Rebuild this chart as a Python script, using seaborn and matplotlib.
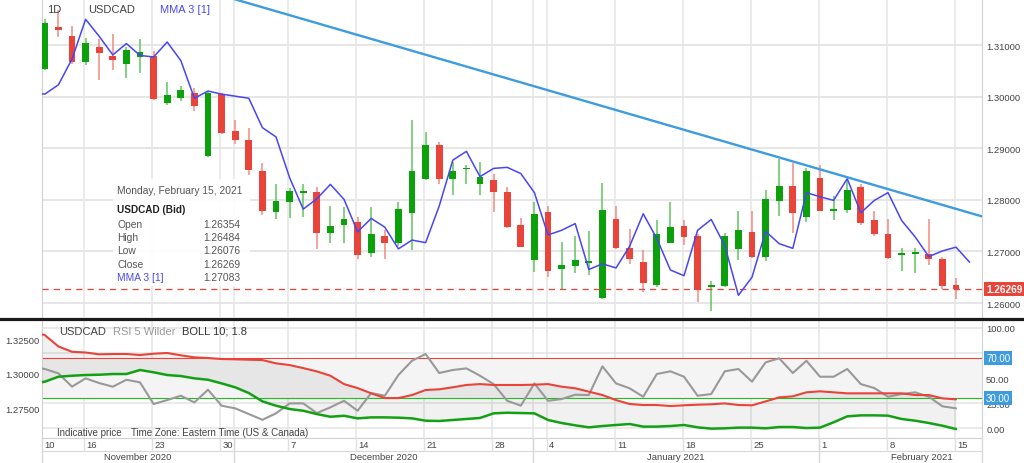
import numpy as np
import pandas as pd
import matplotlib
matplotlib.use("Agg")
import matplotlib.pyplot as plt
import matplotlib.transforms as mtransforms
from matplotlib.patches import Rectangle
from matplotlib.lines import Line2D
import seaborn as sns

sns.set_theme(style="white")
plt.rcParams['font.family'] = ['Liberation Sans', 'DejaVu Sans']

# ------------------------------------------------------------------ data
dates = [d for d in pd.bdate_range("2020-11-10", "2021-02-15")
         if d != pd.Timestamp("2020-12-31")]          # 69 trading days

# candles for dates[1:] (Nov 11 .. Feb 15)
candle_open = [
    1.3054, 1.3135, 1.3117, 1.3067, 1.3096, 1.3078, 1.3064, 1.3077, 1.3078, 1.2988,
    1.2997, 1.3007, 1.2885, 1.3005, 1.2934, 1.2916, 1.2855, 1.2776, 1.2796, 1.2813,
    1.2815, 1.2736, 1.2752, 1.2758, 1.2697, 1.2730, 1.2716, 1.2775, 1.2840, 1.2906,
    1.2841, 1.2859, 1.2830, 1.2838, 1.2816, 1.2751, 1.2684, 1.2777, 1.2665, 1.2672,
    1.2678, 1.2610, 1.2762, 1.2706, 1.2680, 1.2635, 1.2717, 1.2749, 1.2730, 1.2631,
    1.2633, 1.2705, 1.2738, 1.2689, 1.2798, 1.2827, 1.2767, 1.2843, 1.2778, 1.2781,
    1.2825, 1.2760, 1.2734, 1.2693, 1.2696, 1.2695, 1.2685, 1.26354]
candle_high = [
    1.3150, 1.3168, 1.3138, 1.3114, 1.3111, 1.3122, 1.3097, 1.3111, 1.3088, 1.3028,
    1.3020, 1.3016, 1.3009, 1.3007, 1.2955, 1.2940, 1.2871, 1.2831, 1.2823, 1.2830,
    1.2825, 1.2789, 1.2786, 1.2767, 1.2786, 1.2742, 1.2795, 1.2955, 1.2932, 1.2913,
    1.2873, 1.2867, 1.2873, 1.2851, 1.2825, 1.2765, 1.2795, 1.2788, 1.2719, 1.2730,
    1.2740, 1.2833, 1.2788, 1.2743, 1.2703, 1.2760, 1.2795, 1.2760, 1.2734, 1.2643,
    1.2736, 1.2778, 1.2779, 1.2820, 1.2879, 1.2872, 1.2862, 1.2867, 1.2808, 1.2841,
    1.2830, 1.2779, 1.2762, 1.2706, 1.2706, 1.2762, 1.2689, 1.26484]
candle_low = [
    1.3051, 1.3116, 1.3064, 1.3062, 1.3033, 1.3051, 1.3037, 1.3046, 1.2994, 1.2984,
    1.2991, 1.2972, 1.2884, 1.2927, 1.2908, 1.2849, 1.2771, 1.2763, 1.2765, 1.2767,
    1.2705, 1.2716, 1.2716, 1.2685, 1.2690, 1.2685, 1.2710, 1.2702, 1.2838, 1.2831,
    1.2810, 1.2830, 1.2810, 1.2777, 1.2745, 1.2708, 1.2661, 1.2651, 1.2625, 1.2659,
    1.2654, 1.2608, 1.2704, 1.2676, 1.2622, 1.2632, 1.2716, 1.2712, 1.2602, 1.2585,
    1.2632, 1.2684, 1.2687, 1.2682, 1.2768, 1.2736, 1.2758, 1.2778, 1.2760, 1.2775,
    1.2751, 1.2730, 1.2686, 1.2663, 1.2658, 1.2674, 1.2628, 1.26076]
candle_close = [
    1.3143, 1.3129, 1.3068, 1.3104, 1.3085, 1.3071, 1.3091, 1.3087, 1.2996, 1.3003,
    1.3013, 1.2982, 1.3007, 1.2929, 1.2916, 1.2858, 1.2779, 1.2798, 1.2818, 1.2816,
    1.2736, 1.2749, 1.2762, 1.2693, 1.2734, 1.2716, 1.2782, 1.2856, 1.2906, 1.2840,
    1.2856, 1.2862, 1.2844, 1.2816, 1.2747, 1.2709, 1.2773, 1.2663, 1.2673, 1.2684,
    1.2680, 1.2780, 1.2706, 1.2686, 1.2639, 1.2734, 1.2747, 1.2728, 1.2625, 1.2634,
    1.2729, 1.2741, 1.2690, 1.2801, 1.2827, 1.2775, 1.2855, 1.2779, 1.2782, 1.2820,
    1.2755, 1.2734, 1.2687, 1.2697, 1.2699, 1.2686, 1.2633, 1.26269]

# MMA 3 [1] (displaced one bar forward: 70 values, Nov 10 .. Feb 16)
mma3 = [
    1.3007, 1.3005, 1.3023, 1.3073, 1.3150, 1.3117, 1.3081, 1.3103, 1.3080, 1.3077,
    1.3106, 1.3070, 1.2997, 1.3011, 1.3005, 1.3001, 1.2997, 1.2940, 1.2922, 1.2843,
    1.2782, 1.2802, 1.2830, 1.2801, 1.2738, 1.2764, 1.2747, 1.2705, 1.2722, 1.2717,
    1.2788, 1.2877, 1.2894, 1.2845, 1.2861, 1.2863, 1.2851, 1.2814, 1.2732, 1.2741,
    1.2754, 1.2665, 1.2676, 1.2668, 1.2710, 1.2773, 1.2725, 1.2664, 1.2653, 1.2741,
    1.2762, 1.2711, 1.2615, 1.2650, 1.2739, 1.2715, 1.2706, 1.2814, 1.2806, 1.2799,
    1.2841, 1.2775, 1.2799, 1.2814, 1.2760, 1.2728, 1.2690, 1.2701, 1.27083, 1.2679]

# trend line anchors (bar position, price)
trend_pos = [10.0, 69.9]
trend_price = [1.3227, 1.2768]

last_close = 1.26269

# RSI 5 Wilder and Bollinger(10, 1.8) bands on RSI, Nov 10 .. Feb 15
rsi5 = [
    61.0, 59.0, 54.7, 41.4, 49.7, 45.0, 41.4, 48.3, 45.7, 24.2,
    28.1, 32.4, 25.8, 38.4, 22.5, 19.9, 14.2, 8.5, 14.9, 24.8,
    24.8, 15.2, 20.9, 27.4, 17.5, 35.1, 32.4, 53.0, 67.2, 73.9,
    55.0, 58.0, 59.6, 52.3, 44.0, 27.4, 22.5, 44.7, 27.4, 29.1,
    33.4, 33.1, 61.6, 44.7, 39.8, 31.4, 54.0, 56.7, 51.3, 32.4,
    34.1, 56.7, 59.0, 46.4, 65.6, 69.6, 55.0, 67.2, 51.3, 51.3,
    59.0, 44.0, 40.0, 31.4, 34.1, 35.8, 31.4, 21.9, 19.9]
boll_upper = [
    96.0, 92.7, 81.4, 76.1, 75.4, 73.6, 73.9, 73.9, 72.9, 74.2,
    74.9, 72.6, 70.6, 69.9, 68.9, 68.6, 68.2, 67.9, 64.6, 62.9,
    59.9, 56.6, 52.3, 44.0, 40.0, 34.8, 30.1, 30.1, 33.1, 38.1,
    38.8, 40.8, 43.1, 44.0, 43.1, 43.1, 43.1, 43.4, 44.0, 41.4,
    39.8, 36.5, 33.1, 28.1, 24.2, 23.2, 23.2, 22.2, 22.9, 23.5,
    23.9, 24.8, 23.2, 22.9, 26.8, 30.8, 31.8, 35.8, 36.8, 35.8,
    34.8, 34.8, 34.8, 34.8, 34.8, 33.1, 33.1, 29.8, 28.8]
boll_lower = [
    44.0, 46.4, 51.3, 52.3, 53.0, 53.3, 54.0, 54.0, 58.0, 55.7,
    53.0, 52.0, 49.7, 48.3, 44.7, 40.8, 35.1, 26.8, 22.5, 19.2,
    17.5, 14.2, 11.5, 12.5, 9.9, 10.9, 10.9, 10.6, 9.9, 7.6,
    7.3, 8.3, 9.3, 10.3, 14.9, 15.5, 15.2, 14.9, 8.3, 5.3,
    3.0, 1.0, 2.3, 3.3, 4.3, 1.7, 1.7, 2.3, 3.3, 1.0,
    -0.3, 0.0, 0.7, 0.7, 0.0, 1.3, 1.3, 0.3, 0.7, 6.0,
    11.9, 12.9, 12.9, 12.6, 9.3, 7.6, 5.3, 2.6, -0.7]
rsi_levels = [70, 30]

price_ticks = [1.26, 1.27, 1.28, 1.29, 1.30, 1.31]
rsi_ticks = [0, 25, 50, 75, 100]
left_ticks = [1.275, 1.300, 1.325]
month_labels = ["November 2020", "December 2020", "January 2021", "February 2021"]

# ------------------------------------------------------------------ figure
W, H = 1024, 464
fig = plt.figure(figsize=(W / 100, H / 100), dpi=100)
fig.patch.set_facecolor("white")

def fx(px):
    return px / W

def fy(py):
    return 1 - py / H

X0, X1 = 42, 982
XL = (0.794, 69.91)
GRID = "#e6e6e6"
GREEN, RED = "#0ca10c", "#e8443a"
GREEN_W, RED_W = "#62c462", "#f08a84"
BLUE_BOX = "#3d9be0"

ax = fig.add_axes([fx(X0), fy(318), (X1 - X0) / W, 318 / H])
axb = fig.add_axes([fx(X0), fy(439), (X1 - X0) / W, (439 - 321) / H])
axb2 = axb.twinx()
axl = fig.add_axes([fx(X0), 0, (X1 - X0) / W, 25 / H])

pos = np.arange(len(dates))
week_lines = [i - 0.1 for i, d in enumerate(dates) if d.weekday() == 0]
month_lines = [i - 0.1 for i in range(1, len(dates)) if dates[i].month != dates[i - 1].month]
vlines_all = sorted(set(week_lines + month_lines))

# ---------------- top panel
ax.set_xlim(*XL)
ax.set_ylim(1.25729, 1.31894)
for p in price_ticks:
    ax.axhline(p, color=GRID, lw=1.4, zorder=0.5)
for v in vlines_all:
    ax.axvline(v, color=GRID, lw=1.1, zorder=0.5)

cpos = pos[1:]
o = np.array(candle_open); h = np.array(candle_high)
l = np.array(candle_low); c = np.array(candle_close)
up = c >= o
ax.vlines(cpos, l, h, colors=[GREEN_W if u else RED_W for u in up], lw=1.1, zorder=2)
body = np.maximum(np.abs(c - o), 0.00035)
ax.bar(cpos, body, bottom=np.minimum(o, c), width=0.5,
       color=[GREEN if u else RED for u in up], edgecolor="none", zorder=3)

sns.lineplot(x=np.arange(len(mma3)), y=mma3, ax=ax, color="#4646f5",
             lw=1.1, estimator=None, zorder=4)
sns.lineplot(x=trend_pos, y=trend_price, ax=ax, color="#3d9be0",
             lw=1.7, estimator=None, zorder=4)
ax.axhline(last_close, color=RED, lw=0.9, dashes=(5, 4), zorder=3)

ax.yaxis.tick_right()
ax.set_yticks(price_ticks)
ax.set_yticklabels([f"{p:.5f}" for p in price_ticks])
ax.tick_params(axis="y", length=0, pad=3, labelsize=6.8, labelcolor="#444")
ax.set_xticks([])
ax.set_xlabel(""); ax.set_ylabel("")
for s in ["top", "bottom"]:
    ax.spines[s].set_visible(False)
for s in ["left", "right"]:
    ax.spines[s].set_color("#d0d0d0"); ax.spines[s].set_linewidth(0.8)

blend = mtransforms.blended_transform_factory(ax.transAxes, ax.transData)
ax.text(1 + 4 / 940, last_close, "1.26269", transform=blend, ha="left", va="center",
        color="white", fontsize=7.2, fontweight="bold", clip_on=False, zorder=10,
        bbox=dict(boxstyle="square,pad=0.2", fc=RED, ec="none"))

fig.text(fx(47), fy(10), "1D", fontsize=8, color="#444", va="center")
fig.text(fx(88), fy(10), "USDCAD", fontsize=8, color="#444", va="center")
fig.text(fx(160), fy(10), "MMA 3 [1]", fontsize=8, color="#4a4af0", va="center")

# tooltip
fig.add_artist(Rectangle((fx(113), fy(287)), (250 - 113) / W, (287 - 180) / H,
                         transform=fig.transFigure, fc="white", ec="none",
                         alpha=0.93, zorder=5))
fig.text(fx(117), fy(191), "Monday, February 15, 2021", fontsize=7.4, color="#555",
         va="center", zorder=6)
fig.text(fx(117), fy(210), "USDCAD (Bid)", fontsize=7.2, color="#222",
         fontweight="bold", va="center", zorder=6)
tip_rows = [("Open", candle_open[-1]), ("High", candle_high[-1]),
            ("Low", candle_low[-1]), ("Close", candle_close[-1]),
            ("MMA 3 [1]", mma3[-2])]
for k, (name, val) in enumerate(tip_rows):
    yy = 225 + k * 13.2
    col = "#4a4af0" if name.startswith("MMA") else "#555"
    fig.text(fx(117), fy(yy), name, fontsize=7.4, color=col, va="center", zorder=6)
    fig.text(fx(240), fy(yy), f"{val:.5f}", fontsize=7.4, color="#555",
             va="center", ha="right", zorder=6)

# separator
fig.add_artist(Line2D([0, 1], [fy(319.5), fy(319.5)], transform=fig.transFigure,
                      color="#1a1a1a", lw=2.3, zorder=8))

# ---------------- bottom panel
axb.set_xlim(*XL)
axb.set_ylim(-9.6, 107.7)
for t in rsi_ticks:
    axb.axhline(t, color=GRID, lw=1.2, zorder=0.5)
for v in vlines_all:
    axb.axvline(v, color=GRID, lw=1.1, zorder=0.5)
axb.axhspan(rsi_levels[1], rsi_levels[0], color="#f4f4f4", zorder=0.6, lw=0)
axb.fill_between(pos, boll_lower, boll_upper, color="#000000", alpha=0.055,
                 lw=0, zorder=0.7)
axb.axhline(rsi_levels[0], color=RED, lw=0.8, zorder=1)
axb.axhline(rsi_levels[1], color="#22bb22", lw=0.8, zorder=1)
sns.lineplot(x=pos, y=rsi5, ax=axb, color="#999999", lw=1.5, estimator=None, zorder=3)
sns.lineplot(x=pos, y=boll_upper, ax=axb, color=RED, lw=1.5, estimator=None, zorder=3)
sns.lineplot(x=pos, y=boll_lower, ax=axb, color="#14a014", lw=1.8, estimator=None, zorder=3)

axb.set_yticks(rsi_ticks)
axb.set_yticklabels([f"{t:.2f}" for t in rsi_ticks])
axb.yaxis.set_ticks_position("right")
axb.yaxis.set_label_position("right")
axb.tick_params(axis="y", length=0, pad=3, labelsize=6.8, labelcolor="#444",
                left=False, labelleft=False, right=True, labelright=True)
axb.set_xticks([])
axb.set_xlabel(""); axb.set_ylabel("")
axb.spines["top"].set_visible(False)
for s in ["left", "right", "bottom"]:
    axb.spines[s].set_color("#d0d0d0"); axb.spines[s].set_linewidth(0.8)

axb2.set_ylim(1.25357, 1.33871)
axb2.set_yticks(left_ticks)
axb2.set_yticklabels([f"{t:.5f}" for t in left_ticks])
axb2.yaxis.set_ticks_position("left")
axb2.tick_params(axis="y", length=0, pad=2, labelsize=6.8, labelcolor="#444",
                 left=True, labelleft=True, right=False, labelright=False)
axb2.grid(False)
for s in axb2.spines.values():
    s.set_visible(False)

blendb = mtransforms.blended_transform_factory(axb.transAxes, axb.transData)
for lvl in rsi_levels:
    axb2.text(1 + 4 / 940, lvl, f"{lvl:.2f}", transform=blendb, ha="left", va="center",
              color="white", fontsize=7.0, clip_on=False, zorder=10,
              bbox=dict(boxstyle="square,pad=0.2", fc=BLUE_BOX, ec="none"))

fig.text(fx(59), fy(332), "USDCAD", fontsize=8, color="#444", va="center")
fig.text(fx(113), fy(332), "RSI 5 Wilder", fontsize=8, color="#9a9a9a", va="center")
fig.text(fx(182), fy(332), "BOLL 10; 1.8", fontsize=8, color="#333", va="center")
fig.text(fx(57), fy(433), "Indicative price", fontsize=7, color="#444", va="center")
fig.text(fx(131), fy(433), "Time Zone: Eastern Time (US & Canada)", fontsize=7,
         color="#444", va="center")

# ---------------- date label strip
axl.set_xlim(*XL)
axl.set_ylim(464, 439)
axl.axis("off")
axl.plot(XL, [451.7, 451.7], color="#d8d8d8", lw=0.8, clip_on=False)
for v in vlines_all:
    axl.plot([v, v], [439, 451.7], color="#e0e0e0", lw=1.0)
for v in [XL[0]] + month_lines + [XL[1]]:
    axl.plot([v, v], [439, 464], color="#d8d8d8", lw=1.0, clip_on=False)

off = mtransforms.offset_copy(axl.transData, fig=fig, x=2.5, y=0, units="dots")
axl.text(XL[0], 445.5, str(dates[0].day), transform=off, fontsize=6.8,
         color="#444", va="center", ha="left")
for i, d in enumerate(dates):
    if d.weekday() == 0:
        axl.text(i - 0.1, 445.5, str(d.day), transform=off, fontsize=6.8,
                 color="#444", va="center", ha="left")
month_bounds = [XL[0]] + month_lines
month_centers = [(month_bounds[0] + month_bounds[1]) / 2,
                 (month_bounds[1] + month_bounds[2]) / 2,
                 (month_bounds[2] + month_bounds[3]) / 2,
                 65.5]
for mc, ml in zip(month_centers, month_labels):
    axl.text(mc, 458, ml, fontsize=6.8, color="#444", va="center", ha="center")

fig.savefig("out.png", dpi=100, facecolor="white")
